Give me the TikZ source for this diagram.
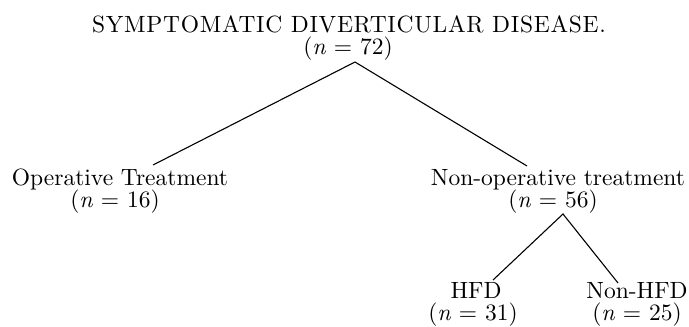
\documentclass[tikz,border=0pt]{standalone}
\usepackage{fontspec}
\setmainfont{lmroman10}[Extension=.otf, UprightFont=*-regular, ItalicFont=*-italic]
\newfontfamily\ttlfont{lmroman10}[Extension=.otf, UprightFont=*-regular, LetterSpace=3.0]
\tikzset{
  lbl/.style={font=\fontsize{23.5}{26}\selectfont, inner sep=0pt, anchor=base},
  ttl/.style={font=\ttlfont\fontsize{23.5}{26}\selectfont, inner sep=0pt, anchor=base},
  conn/.style={line width=1.1pt}
}
\begin{document}
\begin{tikzpicture}[x=1pt,y=-1pt]
\useasboundingbox (0,0) rectangle (689,327);
% labels
\node[ttl] (root) at (349,32) {SYMPTOMATIC DIVERTICULAR DISEASE.};
\node[lbl] (rootn) at (348,54) {(\textit{n} = 72)};
\node[lbl] (op) at (120,185) {Operative Treatment};
\node[lbl] (opn) at (115,207) {(\textit{n} = 16)};
\node[lbl] (nop) at (558,185) {Non-operative treatment};
\node[lbl] (nopn) at (553,207) {(\textit{n} = 56)};
\node[lbl] (hfd) at (476,298) {HFD};
\node[lbl] (hfdn) at (473,320) {(\textit{n} = 31)};
\node[lbl] (nhfd) at (637,298) {Non-HFD};
\node[lbl] (nhfdn) at (637,320) {(\textit{n} = 25)};
% connector points
\coordinate (a1) at (355,62);
\coordinate (e1) at (153,165);
\coordinate (e2) at (527,166);
\coordinate (a2) at (563,214);
\coordinate (e3) at (493,280);
\coordinate (e4) at (618,283);
\draw[conn] (e1) -- (a1) -- (e2);
\draw[conn] (e3) -- (a2) -- (e4);
\end{tikzpicture}
\end{document}
